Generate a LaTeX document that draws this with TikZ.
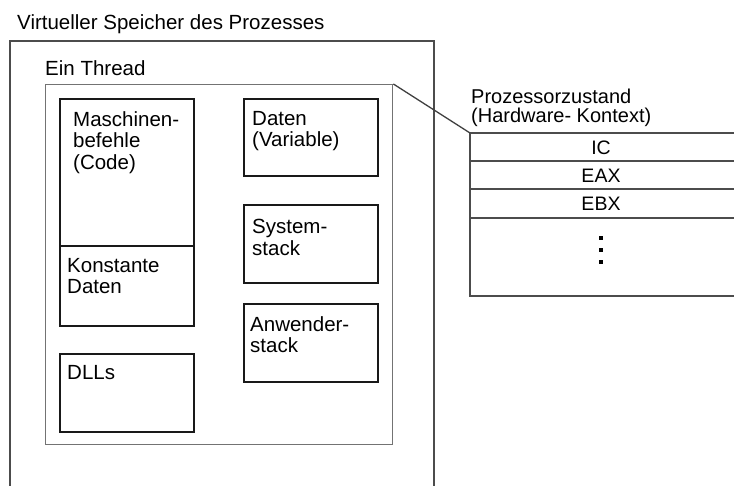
\documentclass[tikz,border=0pt]{standalone}
\usepackage{fontspec}
\setmainfont{Liberation Sans}
\begin{document}
\begin{tikzpicture}[x=1pt,y=-1pt,
  outerline/.style={draw=black!70,line width=1.6pt},
  threadline/.style={draw=black!55,line width=1.4pt},
  boxline/.style={draw=black!90,line width=1.6pt},
  tabline/.style={draw=black!70,line width=1.5pt},
  lbl/.style={anchor=north west,inner sep=0pt,align=left,font=\fontsize{20.5}{21.5}\selectfont},
  cell/.style={inner sep=0pt,font=\fontsize{19.5}{20}\selectfont}]
\useasboundingbox (0,0) rectangle (734,486);
% outer process memory (open at the bottom)
\coordinate (obl) at (10,486);
\coordinate (otl) at (10,41);
\coordinate (otr) at (434,41);
\coordinate (obr) at (434,486);
\draw[outerline] (obl) -- (otl) -- (otr) -- (obr);
\node[lbl] (title) at (17,14) {Virtueller Speicher des Prozesses};
% thread box
\node[threadline,minimum width=347pt,minimum height=360pt,inner sep=0pt,anchor=north west] (thread) at (45,84) {};
\node[lbl] (threadlbl) at (45,60) {Ein Thread};
% code box
\node[boxline,minimum width=134pt,minimum height=227pt,inner sep=0pt,anchor=north west] (code) at (59,98) {};
\coordinate (divl) at (59,246);
\coordinate (divr) at (193,246);
\draw[boxline] (divl) -- (divr);
\node[lbl] (codelbl) at (73,111) {Maschinen-\\befehle\\(Code)};
\node[lbl] (constlbl) at (67,258) {Konstante\\Daten};
% DLLs
\node[boxline,minimum width=134pt,minimum height=78pt,inner sep=0pt,anchor=north west] (dll) at (59,353) {};
\node[lbl] (dlllbl) at (67,365) {DLLs};
% right column
\node[boxline,minimum width=134pt,minimum height=77pt,inner sep=0pt,anchor=north west] (daten) at (243,98) {};
\node[lbl] (datenlbl) at (252,111) {Daten\\(Variable)};
\node[boxline,minimum width=134pt,minimum height=78pt,inner sep=0pt,anchor=north west] (sys) at (243,204) {};
\node[lbl] (syslbl) at (252,219) {System-\\stack};
\node[boxline,minimum width=134pt,minimum height=78pt,inner sep=0pt,anchor=north west] (anw) at (243,303) {};
\node[lbl] (anwlbl) at (250,316) {Anwender-\\stack};
% processor state table
\node[lbl,font=\fontsize{20}{19}\selectfont] (proclbl) at (471,89) {Prozessorzustand\\(Hardware- Kontext)};
\coordinate (t0l) at (470,133); \coordinate (t0r) at (734,133);
\coordinate (t1l) at (470,161); \coordinate (t1r) at (734,161);
\coordinate (t2l) at (470,189); \coordinate (t2r) at (734,189);
\coordinate (t3l) at (470,218); \coordinate (t3r) at (734,218);
\coordinate (t4l) at (470,296); \coordinate (t4r) at (734,296);
\draw[tabline] (t0r) -- (t0l) -- (t4l) -- (t4r);
\draw[tabline] (t1l) -- (t1r);
\draw[tabline] (t2l) -- (t2r);
\draw[tabline] (t3l) -- (t3r);
\node[cell] (ic) at (601,147.5) {IC};
\node[cell] (eax) at (601,175.5) {EAX};
\node[cell] (ebx) at (601,203.5) {EBX};
\foreach \yy in {238,250,262}{\fill (598.5,\yy-2.3) rectangle (603,\yy+2.3);}
% connector from thread to processor state
\draw[threadline,draw=black!75,line width=1.3pt] (thread.north east) -- (t0l);
\end{tikzpicture}
\end{document}
